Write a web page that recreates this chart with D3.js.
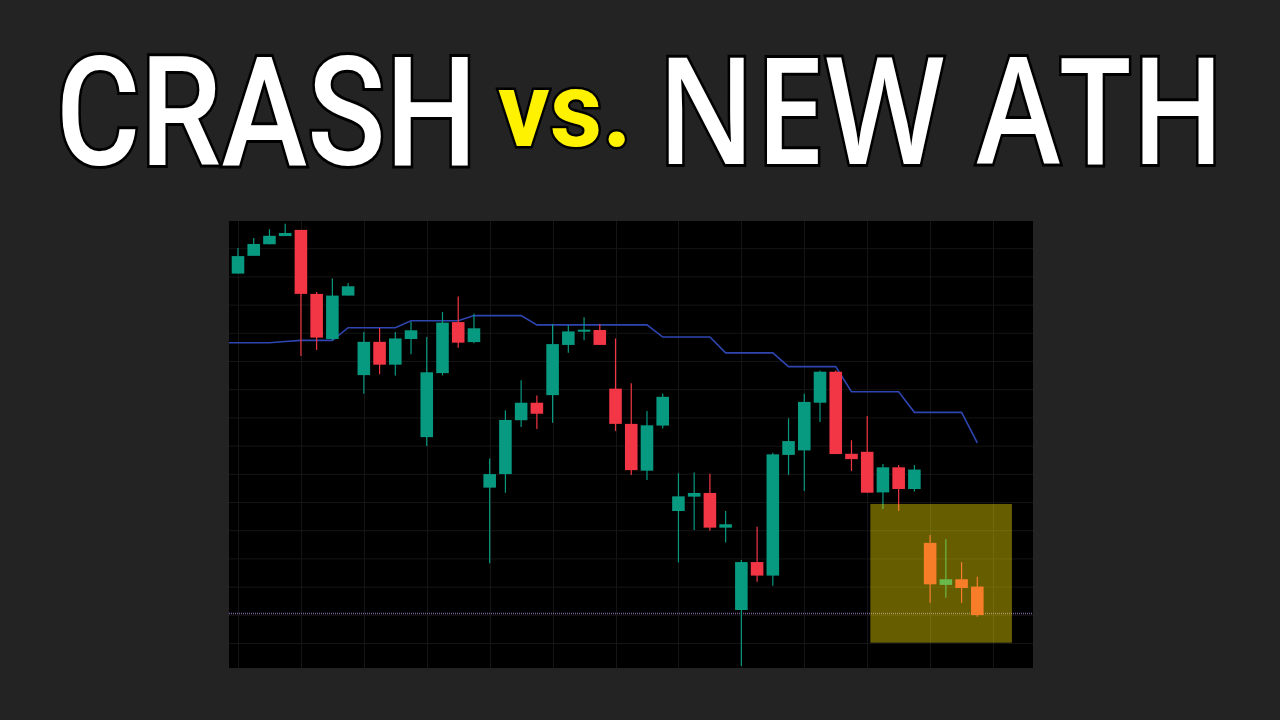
<!DOCTYPE html>
<html><head><meta charset="utf-8">
<script src="https://cdn.jsdelivr.net/npm/d3@7"></script>
<style>html,body{margin:0;padding:0;background:#232323;overflow:hidden}</style>
</head><body>
<svg id="c" width="1280" height="720"></svg>
<script>
// ---- data (arbitrary price units) ----
const opens  = [151.0,157.3,161.4,164.3,166.5,143.8,127.8,143.2,115.0,126.8,118.7,127.8,93.0,115.7,133.8,126.7,75.1,79.9,99.0,105.2,107.9,125.7,130.5,131.0,110.2,97.7,81.1,97.1,66.8,71.9,73.2,60.9,31.7,48.7,43.9,86.7,88.3,105.2,116.2,87.1,87.8,73.4,82.3,74.6,55.5,40.6,42.6,40.0];
const highs  = [160.1,163.6,166.7,168.7,166.5,144.5,149.3,147.7,130.3,131.7,130.3,133.9,128.5,137.4,142.9,136.8,85.4,102.5,113.2,107.8,133.1,132.7,135.5,133.0,128.0,112.1,102.3,108.5,80.2,80.5,80.0,66.8,49.4,61.2,87.5,99.7,108.4,116.6,116.6,91.9,100.5,83.5,83.1,83.1,58.3,56.8,48.7,43.5];
const lows   = [151.0,157.3,161.4,164.3,121.8,123.9,127.4,143.2,108.4,115.3,114.9,122.4,89.9,114.9,124.7,126.3,48.3,73.3,96.6,95.9,98.1,122.9,127.4,125.7,95.2,79.6,77.8,96.1,48.6,60.1,59.8,55.6,11.8,41.7,40.3,79.6,73.9,98.4,87.0,81.0,73.3,67.5,66.8,73.7,34.3,36.0,34.2,29.3];
const closes = [157.2,161.5,164.4,165.4,143.8,128.3,143.2,146.5,126.8,118.7,128.0,130.9,116.0,133.6,126.5,131.6,79.9,99.1,105.2,101.3,126.0,130.5,131.1,125.7,97.7,81.3,97.2,107.3,72.0,73.2,60.9,62.1,48.7,43.9,86.9,91.6,105.5,116.2,87.0,85.2,73.3,82.3,74.6,81.5,40.8,42.6,39.5,29.9];
// stepped blue line, first value is the bar before the visible window (index -1)
const lineVals = [126.5,126.5,126.5,126.5,126.9,127.3,127.3,127.3,131.8,131.8,131.8,131.8,134.3,134.3,134.3,134.3,136.1,136.1,136.1,136.1,132.8,132.8,132.8,132.8,132.8,132.8,132.8,132.8,128.5,128.5,128.5,128.5,122.9,122.9,122.9,122.9,118.0,118.0,118.0,118.0,109.1,109.1,109.1,109.1,101.8,101.8,101.8,101.8,91.0];
const levelPrice = 30.5;
const zoneIdx = [40.2, 49.2];
const zonePrice = [20.1, 69.3];
const gridPrices = [20,30,40,50,60,70,80,90,100,110,120,130,140,150,160];
const gridIdx = [0,4,8,12,16,20,24,28,32,36,40,44,48];
const titleParts = ["CRASH", "vs.", "NEW ATH"];

// ---- layout ----
const P = {x0:229, x1:1033, y0:221, y1:668};
const svg = d3.select("#c");
const x = d3.scaleLinear().domain([-0.572, 50.54]).range([P.x0, P.x1]);
const y = d3.scaleLinear().domain([11.13, 169.65]).range([P.y1, P.y0]);
const bw = (x(1)-x(0))*0.8;
const UP = "#089981", DN = "#f23645";

svg.append("defs").append("clipPath").attr("id","clip")
  .append("rect").attr("x",P.x0).attr("y",P.y0).attr("width",P.x1-P.x0).attr("height",P.y1-P.y0);

svg.append("rect").attr("x",P.x0).attr("y",P.y0).attr("width",P.x1-P.x0).attr("height",P.y1-P.y0).attr("fill","#000");

const g = svg.append("g").attr("clip-path","url(#clip)");
g.selectAll("line.hg").data(gridPrices).join("line").attr("class","hg")
  .attr("x1",P.x0).attr("x2",P.x1).attr("y1",d=>y(d)+0.5).attr("y2",d=>y(d)+0.5)
  .attr("stroke","#151515").attr("stroke-width",1);
g.selectAll("line.vg").data(gridIdx).join("line").attr("class","vg")
  .attr("y1",P.y0).attr("y2",P.y1).attr("x1",d=>Math.round(x(d))+0.5).attr("x2",d=>Math.round(x(d))+0.5)
  .attr("stroke","#151515").attr("stroke-width",1);

// level dotted line
g.append("line").attr("x1",P.x0).attr("x2",P.x1).attr("y1",y(levelPrice)).attr("y2",y(levelPrice))
  .attr("stroke","#7a5f9e").attr("stroke-width",1.5).attr("stroke-dasharray","1,1");

// blue stepped line
g.append("path").datum(lineVals)
  .attr("d", d3.line().x((d,i)=>x(i-1)).y(d=>y(d)))
  .attr("fill","none").attr("stroke","#2f45b0").attr("stroke-width",1.6);

const candles = opens.map((o,i)=>({i,o,h:highs[i],l:lows[i],c:closes[i]}));
const cg = g.selectAll("g.cd").data(candles).join("g").attr("class","cd");
cg.append("line").attr("x1",d=>x(d.i)).attr("x2",d=>x(d.i)).attr("y1",d=>y(d.h)).attr("y2",d=>y(d.l))
  .attr("stroke",d=>d.c>=d.o?UP:DN).attr("stroke-width",1.2);
cg.append("rect").attr("x",d=>x(d.i)-bw/2).attr("width",bw)
  .attr("y",d=>y(Math.max(d.o,d.c)))
  .attr("height",d=>Math.max(2, Math.abs(y(d.o)-y(d.c))))
  .attr("fill",d=>d.c>=d.o?UP:DN);

// highlight zone
g.append("rect").attr("x",x(zoneIdx[0])).attr("width",x(zoneIdx[1])-x(zoneIdx[0]))
  .attr("y",y(zonePrice[1])).attr("height",y(zonePrice[0])-y(zonePrice[1]))
  .attr("fill","rgba(255,232,0,0.4)");

// ---- title ----
const t = svg.append("g");
t.append("text").text(titleParts[0]).attr("x",56).attr("y",165)
  .attr("font-family","Roboto").attr("font-size",152).attr("font-weight",500)
  .attr("textLength",421).attr("lengthAdjust","spacingAndGlyphs")
  .attr("fill","#fff").attr("stroke","#000").attr("stroke-width",6).attr("paint-order","stroke");
t.append("text").text(titleParts[1]).attr("x",498).attr("y",146)
  .attr("font-family","Roboto").attr("font-size",106).attr("font-weight",700)
  .attr("textLength",134).attr("lengthAdjust","spacingAndGlyphs")
  .attr("fill","#fff200").attr("stroke","#000").attr("stroke-width",5).attr("paint-order","stroke");
t.append("text").text(titleParts[2]).attr("x",657).attr("y",164)
  .attr("font-family","Open Sans").attr("font-size",148).attr("font-weight",600)
  .attr("textLength",568).attr("lengthAdjust","spacingAndGlyphs")
  .attr("fill","#fff").attr("stroke","#000").attr("stroke-width",6).attr("paint-order","stroke");
</script>
</body></html>
